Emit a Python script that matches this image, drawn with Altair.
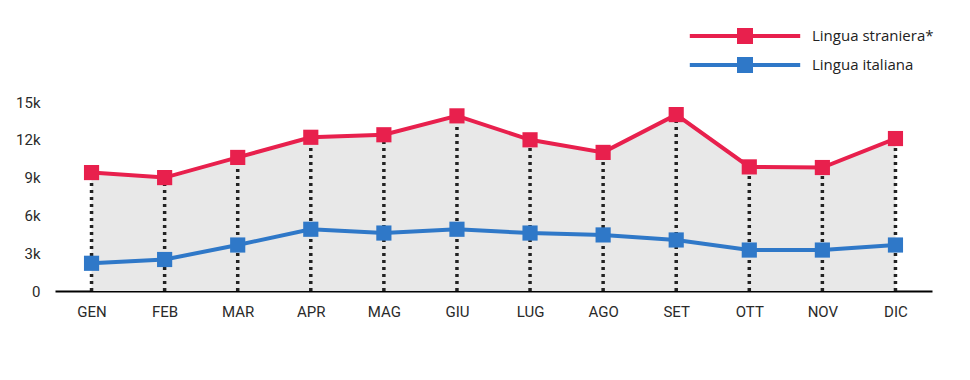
import altair as alt
import pandas as pd

months = ["GEN", "FEB", "MAR", "APR", "MAG", "GIU", "LUG", "AGO", "SET", "OTT", "NOV", "DIC"]
straniera = [9400, 9000, 10600, 12200, 12400, 13900, 12000, 11000, 14000, 9850, 9800, 12100]
italiana = [2200, 2500, 3650, 4900, 4600, 4900, 4600, 4450, 4050, 3250, 3250, 3650]
series_names = ["Lingua straniera*", "Lingua italiana"]
series_colors = ["#E8204D", "#2F78C8"]
y_ticks = [0, 3000, 6000, 9000, 12000, 15000]

wide = pd.DataFrame({"month": months, "straniera": straniera, "italiana": italiana,
                     "zero": [0] * len(months)})
long = pd.concat([
    pd.DataFrame({"month": months, "value": straniera, "serie": series_names[0]}),
    pd.DataFrame({"month": months, "value": italiana, "serie": series_names[1]}),
])

xaxis = alt.Axis(title=None, ticks=False, domain=True, domainColor="#000",
                 domainWidth=2, labelPadding=13, labelFontSize=15,
                 labelColor="#2a2a2a", labelFont="Roboto", labelAngle=0)
yaxis = alt.Axis(title=None, values=y_ticks, labelOverlap=False,
                 labelExpr="datum.value == 0 ? '0' : (datum.value/1000) + 'k'",
                 grid=False, domain=False, ticks=False, labelPadding=15,
                 labelFontSize=15, labelColor="#2a2a2a", labelFont="Roboto")
xscale = alt.Scale(type="point", padding=0.5)
yscale = alt.Scale(domain=[0, 15000], nice=False)

def X():
    return alt.X("month:N", sort=months, scale=xscale, axis=xaxis)

area = alt.Chart(wide).mark_area(color="#E8E8E8", opacity=1).encode(
    x=X(), y=alt.Y("straniera:Q", scale=yscale, axis=yaxis),
)

rules = alt.Chart(wide).mark_rule(color="#222", strokeWidth=3.5, strokeDash=[3, 4]).encode(
    x=X(), y=alt.Y("zero:Q", scale=yscale, axis=yaxis), y2="straniera:Q",
)

color = alt.Color("serie:N", scale=alt.Scale(domain=series_names, range=series_colors),
                  legend=alt.Legend(title=None, orient="none", legendX=682, legendY=-74,
                                    padding=0,
                                    symbolType="M-6.9,-0.25H6.9V0.25H-6.9Z M-1,-1H1V1H-1Z",
                                    symbolSize=256, symbolStrokeWidth=0,
                                    labelFontSize=15, labelFont="Open Sans", labelColor="#222",
                                    rowPadding=13, labelOffset=59))

lines = alt.Chart(long).mark_line(strokeWidth=4).encode(
    x=X(), y=alt.Y("value:Q", scale=yscale, axis=yaxis), color=color,
)
points = alt.Chart(long).mark_point(shape="square", filled=True, size=230, opacity=1).encode(
    x=X(), y=alt.Y("value:Q", scale=yscale, axis=yaxis), color=color,
)

chart = alt.layer(area, rules, lines, points).properties(
    width=877, height=189,
    autosize=alt.AutoSizeParams(type="none"),
    padding={"left": 47, "top": 94, "right": 30, "bottom": 60},
).configure_view(stroke=None)

chart.save("out.html", embed_options={"renderer": "svg", "actions": False})
